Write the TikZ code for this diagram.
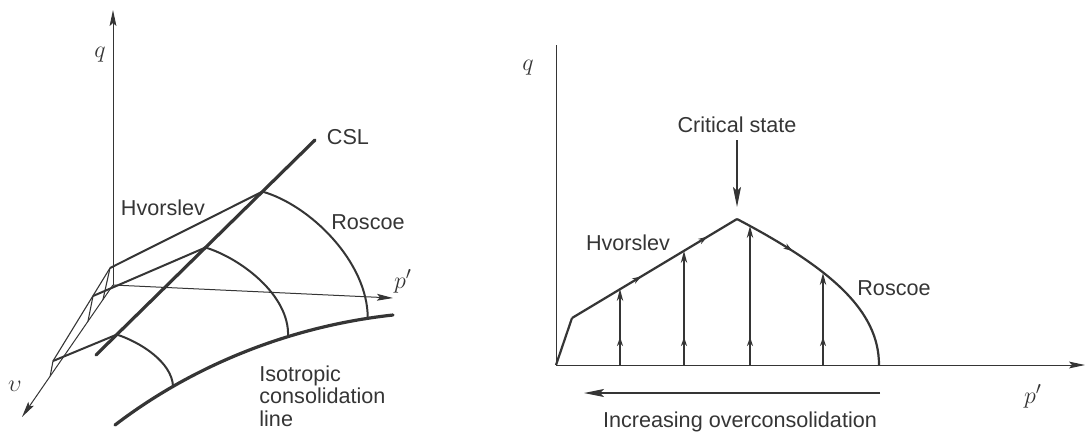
\documentclass[tikz,border=0pt]{standalone}
\usepackage{fontspec}
\usepackage{tikz}
\usetikzlibrary{arrows.meta, calc, decorations.markings}
\newfontfamily\lblfont{Liberation Sans}
\definecolor{ink}{HTML}{353535}

\begin{document}
\begin{tikzpicture}[
    x=0.5pt, y=-0.5pt, color=ink,
    lbl/.style={font=\lblfont\fontsize{10.8}{11.3}\selectfont},
    sym/.style={font=\fontsize{12.5}{14}\selectfont},
    axis/.style={line width=0.5pt},
    axarr/.style={axis, -{Stealth[length=8pt, width=3.4pt, inset=1.5pt]}},
    thinline/.style={line width=0.55pt},
    surf/.style={line width=1pt},
    bold/.style={line width=1.6pt, line cap=round},
    curve/.style={line width=1.1pt},
    dir/.style={postaction={decorate, decoration={markings, mark=at position #1 with {\arrow{Stealth[length=4.5pt, width=3pt]}}}}},
    vert/.style={line width=0.6pt, -{Stealth[length=6pt, width=3.2pt]}, dir=14pt},
    bigarr/.style={line width=0.6pt, -{Stealth[length=10pt, width=4pt, inset=2pt]}}
]
\useasboundingbox (0,0) rectangle (1086,436);

% Left: state boundary surface in p'-q-v space
\coordinate (O) at (113,285);
\coordinate (qtop) at (113,10);
\coordinate (ptip) at (393,298);
\coordinate (vtip) at (22,417);
\draw[axarr] (O) -- (qtop);
\draw[axarr] (O) -- (ptip);
\draw[axarr] (O) -- (vtip);
\node[sym] (qL) at (100,55) {$q$};
\node[sym] (pL) at (403,281) {$p'$};
\node[sym] (vL) at (15,386) {$\upsilon$};

% critical state line
\coordinate (c0) at (96,355);
\coordinate (c1) at (315,140);
\draw[bold] (c0) -- (c1);
\coordinate (B) at ($(c0)!0.095!(c1)$);
\coordinate (M) at ($(c0)!0.5!(c1)$);
\coordinate (T) at ($(c0)!0.76!(c1)$);
\node[lbl] (csl) at (348,137) {CSL};

% isotropic consolidation line
\coordinate (icl0) at (115,425);
\coordinate (icl1) at (393,315);
\draw[bold] (icl0) .. controls (200,360) and (300,325) .. (icl1)
    coordinate[pos=0.22] (i1) coordinate[pos=0.63] (i2) coordinate[pos=0.91] (i3);
\node[lbl, align=left, anchor=north west, inner sep=0] (icl) at (259,365) {Isotropic\\consolidation\\line};

% Roscoe sections
\draw[surf] (T) .. controls (310,205) and (368,262) .. (i3);
\draw[surf] (M) .. controls (240,258) and (290,295) .. (i2);
\draw[surf] (B) .. controls (140,342) and (172,362) .. (i1);
\node[lbl] (rosL) at (368,222) {Roscoe};

% Hvorslev sections
\coordinate (a1) at (110,268);
\coordinate (a2) at (93,296);
\coordinate (a3) at (53,361);
\coordinate (v1) at ($(O)!0.11!(vtip)$);
\coordinate (v2) at ($(O)!0.275!(vtip)$);
\coordinate (v3) at ($(O)!0.69!(vtip)$);
\draw[surf] (T) -- (a1);
\draw[surf] (M) -- (a2);
\draw[surf] (B) -- (a3);
\draw[thinline] (a1) -- (a3);
\draw[thinline] (a1) -- (v1);
\draw[thinline] (a2) -- (v2);
\draw[thinline] (a3) -- (v3);
\node[lbl] (hvL) at (163,208) {Hvorslev};

% Right: normalised section
\coordinate (O2) at (556,365);
\coordinate (q2) at (556,45);
\coordinate (p2) at (1085,365);
\draw[axis] (O2) -- (q2);
\draw[axarr] (O2) -- (p2);
\node[sym] (qR) at (528,68) {$q$};
\node[sym] (pR) at (1033,396) {$p'$};

\coordinate (k) at (572,318);
\coordinate (cs) at (737,219);
\coordinate (r0) at (879,365);
\draw[curve] (O2) -- (k);
\draw[curve, dir=0.42, dir=0.82] (k) -- (cs);
\draw[curve, dir=0.3] (cs) .. controls (830,268) and (879,310) .. (r0);
\node[lbl] (hvR) at (628,243) {Hvorslev};
\node[lbl] (rosR) at (894,288) {Roscoe};

% paths up to the boundary
\coordinate (t1) at (620,289);
\coordinate (t2) at (684,251);
\coordinate (t3) at (750,226);
\coordinate (t4) at (823,273);
\draw[vert] (t1 |- O2) -- (t1);
\draw[vert] (t2 |- O2) -- (t2);
\draw[vert] (t3 |- O2) -- (t3);
\draw[vert] (t4 |- O2) -- (t4);

\node[lbl] (crit) at (737,125) {Critical state};
\draw[bigarr] (crit.south) -- ($(cs)+(0,-12)$);

\coordinate (oc0) at (880,393);
\coordinate (oc1) at (584,393);
\draw[bigarr] (oc0) -- (oc1);
\node[lbl] (ocl) at (740,422) {Increasing overconsolidation};

\end{tikzpicture}
\end{document}
